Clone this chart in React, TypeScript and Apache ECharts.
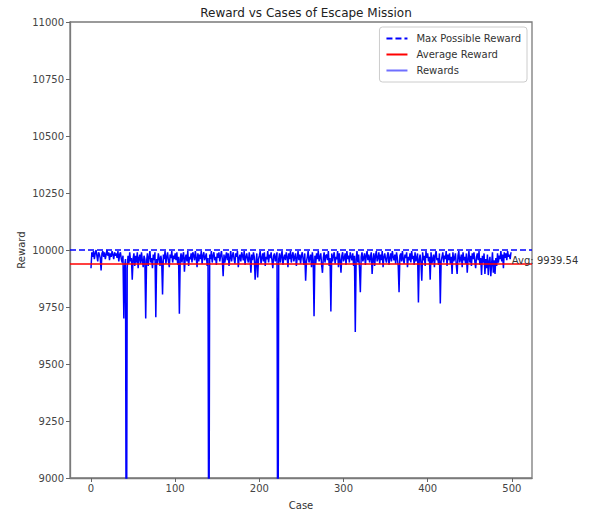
import React, { useEffect, useRef } from "react";
import * as echarts from "echarts";

const TITLE = "Reward vs Cases of Escape Mission";
const MAX_REWARD = 10000;
const AVG_REWARD = 9939.54;
const X_TICKS = [0, 100, 200, 300, 400, 500];
const LEGEND_NAMES = ["Max Possible Reward", "Average Reward", "Rewards"];

const REWARDS = [
  9920, 9990, 9970, 9995, 9960, 9985, 10000, 9975, 9950, 9990,
  9980, 9965, 9910, 9985, 9995, 9970, 9990, 9960, 9980, 10000,
  9975, 9990, 9955, 9985, 9970, 9995, 9980, 9960, 9990, 9975,
  9985, 9965, 9995, 9950, 9980, 9990, 9960, 9945, 9975, 9700,
  9930, 9960, 8200, 9920, 9975, 9940, 9990, 9950, 9965, 9870,
  9960, 9985, 9930, 9975, 9945, 9990, 9920, 9965, 9980, 9940,
  9990, 9955, 9925, 9975, 9960, 9700, 9950, 9985, 9930, 9970,
  9995, 9945, 9965, 9920, 9980, 9955, 9990, 9705, 9960, 9940,
  9985, 9965, 9930, 9975, 9950, 9805, 9980, 9960, 9995, 9940,
  9970, 9990, 9950, 9925, 9980, 9965, 9995, 9945, 9975, 9960,
  9985, 9955, 9990, 9935, 9970, 9720, 9960, 9985, 9945, 9975,
  9990, 9905, 9965, 9980, 9950, 9995, 9930, 9970, 9960, 9985,
  9945, 9990, 9975, 9955, 9995, 9965, 9925, 9985, 9950, 9980,
  9960, 9995, 9940, 9975, 9990, 9955, 9970, 9985, 9930, 9965,
  8300, 9980, 9960, 9995, 9945, 9975, 9990, 9955, 9970, 9935,
  9985, 9965, 9990, 9950, 9975, 9995, 9960, 9885, 9980, 9945,
  9970, 9990, 9955, 9985, 9930, 9965, 9995, 9950, 9975, 9990,
  9960, 9940, 9985, 9970, 9995, 9925, 9965, 9980, 9950, 9990,
  9975, 9955, 9995, 9935, 9970, 9985, 9960, 9945, 9990, 9965,
  9900, 9980, 9955, 9990, 9970, 9870, 9945, 9985, 9880, 9960,
  9975, 9995, 9940, 9965, 9985, 9950, 9990, 9930, 9970, 9960,
  9995, 9945, 9980, 9965, 9990, 9955, 9920, 9975, 9985, 9950,
  9970, 9990, 8100, 9960, 9985, 9945, 9975, 9995, 9935, 9965,
  9980, 9955, 9990, 9970, 9925, 9985, 9960, 9995, 9945, 9975,
  9990, 9950, 9970, 9985, 9930, 9965, 9995, 9955, 9980, 9940,
  9975, 9990, 9960, 9935, 9985, 9865, 9950, 9970, 9995, 9945,
  9965, 9980, 9925, 9990, 9955, 9710, 9975, 9940, 9985, 9960,
  9995, 9950, 9970, 9985, 9935, 9900, 9965, 9990, 9945, 9975,
  9980, 9955, 9995, 9930, 9965, 9730, 9985, 9950, 9975, 9990,
  9940, 9970, 9960, 9995, 9925, 9985, 9955, 9900, 9975, 9990,
  9950, 9965, 9985, 9935, 9995, 9960, 9975, 9945, 9990, 9970,
  9955, 9985, 9930, 9975, 9640, 9960, 9995, 9945, 9980, 9920,
  9815, 9970, 9990, 9950, 9965, 9985, 9935, 9975, 9995, 9955,
  9980, 9945, 9970, 9990, 9895, 9960, 9985, 9930, 9975, 9995,
  9950, 9965, 9990, 9940, 9980, 9955, 9995, 9925, 9970, 9985,
  9960, 9945, 9975, 9990, 9935, 9965, 9985, 9950, 9995, 9970,
  9955, 9980, 9940, 9990, 9965, 9930, 9815, 9975, 9985, 9950,
  9995, 9960, 9940, 9980, 9965, 9990, 9925, 9970, 9955, 9985,
  9945, 9995, 9960, 9975, 9935, 9990, 9950, 9965, 9985, 9770,
  9960, 9980, 9945, 9865, 9990, 9955, 9975, 9930, 9995, 9965,
  9985, 9950, 9970, 9870, 9990, 9940, 9960, 9980, 9925, 9975,
  9995, 9955, 9965, 9935, 9985, 9765, 9950, 9970, 9990, 9945,
  9975, 9960, 9995, 9930, 9980, 9955, 9985, 9940, 9970, 9895,
  9990, 9950, 9965, 9985, 9935, 9895, 9975, 9995, 9945, 9960,
  9980, 9925, 9990, 9955, 9970, 9940, 9985, 9900, 9960, 9995,
  9945, 9975, 9930, 9985, 9960, 9990, 9950, 9920, 9970, 9985,
  9955, 9995, 9935, 9965, 9890, 9975, 9945, 9985, 9895, 9960,
  9920, 9980, 9890, 9950, 9970, 9885, 9940, 9990, 9900, 9955,
  9895, 9965, 9930, 9985, 9945, 9975, 9960, 9995, 9950, 9980,
  9920, 9990, 9965, 9985, 9955, 9995, 9970, 9980, 9960, 9990,
];

const FONT = "DejaVu Sans";
const DASH_ICON = "path://M0,0h6v2h-6zM9,0h6v2h-6zM18,0h3v2h-3z";
const SOLID_ICON = "path://M0,0h21v2h-21z";

export default function App() {
  const ref = useRef<HTMLDivElement>(null);
  useEffect(() => {
    if (!ref.current) return;
    const chart = echarts.init(ref.current, null, { renderer: "svg" });
    const data = REWARDS.map((v, i) => [i, v]);
    chart.setOption({
      animation: false,
      backgroundColor: "#ffffff",
      textStyle: { fontFamily: FONT },
      title: {
        text: TITLE,
        left: 301,
        textAlign: "center",
        top: 2,
        textStyle: { fontSize: 12, fontWeight: "normal", color: "#222", fontFamily: FONT },
      },
      grid: {
        left: 70,
        right: 60,
        top: 22,
        bottom: 33,
        show: true,
        borderColor: "#7a7a7a",
        borderWidth: 1.3,
        backgroundColor: "transparent",
      },
      legend: {
        orient: "vertical",
        right: 65,
        top: 27,
        padding: [6, 6, 6, 7],
        itemGap: 5,
        itemWidth: 21,
        itemHeight: 2,
        backgroundColor: "rgba(255,255,255,0.85)",
        borderColor: "#cccccc",
        borderWidth: 1,
        borderRadius: 3,
        textStyle: {
          fontSize: 10,
          lineHeight: 11,
          color: "#333",
          fontFamily: FONT,
          padding: [0, 0, 0, 4],
        },
        data: [
          { name: LEGEND_NAMES[0], icon: DASH_ICON },
          { name: LEGEND_NAMES[1], icon: SOLID_ICON },
          { name: LEGEND_NAMES[2], icon: SOLID_ICON, itemStyle: { color: "#6f6fff" } },
        ],
      },
      xAxis: {
        type: "value",
        min: -24.95,
        max: 523.95,
        name: "Case",
        nameLocation: "middle",
        nameGap: 22,
        nameMoveOverlap: false,
        nameTextStyle: { fontSize: 10, color: "#333", fontFamily: FONT, verticalAlign: "top" },
        axisLine: { show: true, onZero: false, lineStyle: { color: "#7a7a7a", width: 1.3 } },
        axisTick: { show: true, length: 4, customValues: X_TICKS, lineStyle: { color: "#666" } },
        axisLabel: {
          customValues: X_TICKS,
          fontSize: 10,
          color: "#444",
          margin: 5,
          formatter: (v: number) => String(v),
        },
        splitLine: { show: false },
      },
      yAxis: {
        type: "value",
        min: 9000,
        max: 11000,
        interval: 250,
        name: "Reward",
        nameLocation: "middle",
        nameGap: 44,
        nameMoveOverlap: false,
        nameTextStyle: { fontSize: 10, color: "#333", fontFamily: FONT },
        axisLine: { show: true, onZero: false, lineStyle: { color: "#7a7a7a", width: 1.3 } },
        axisTick: { show: true, length: 4, lineStyle: { color: "#666" } },
        axisLabel: {
          fontSize: 10,
          color: "#444",
          margin: 6,
          formatter: (v: number) => String(v),
        },
        splitLine: { show: false },
      },
      series: [
        {
          name: LEGEND_NAMES[0],
          type: "line",
          data: [],
          symbol: "none",
          color: "#0000ff",
          lineStyle: { color: "#0000ff", width: 1.5, type: [6, 3] },
          markLine: {
            silent: true,
            symbol: "none",
            label: { show: false },
            lineStyle: { color: "#0000ff", width: 1.5, type: [6, 3] },
            data: [{ yAxis: MAX_REWARD }],
          },
        },
        {
          name: LEGEND_NAMES[1],
          type: "line",
          data: [],
          symbol: "none",
          color: "#ff0000",
          lineStyle: { color: "#ff0000", width: 1.5 },
          markLine: {
            silent: true,
            symbol: "none",
            label: { show: false },
            lineStyle: { color: "#ff0000", width: 1.5, type: "solid" },
            data: [{ yAxis: AVG_REWARD }],
          },
          markPoint: {
            symbol: "circle",
            symbolSize: 0,
            data: [
              {
                coord: [REWARDS.length, AVG_REWARD],
                label: {
                  show: true,
                  formatter: "Avg: " + AVG_REWARD.toFixed(2),
                  position: [0, 0],
                  align: "left",
                  verticalAlign: "bottom",
                  offset: [0, 2],
                  fontSize: 10,
                  color: "#333",
                  fontFamily: FONT,
                },
              },
            ],
          },
        },
        {
          name: LEGEND_NAMES[2],
          type: "line",
          data,
          symbol: "none",
          showSymbol: false,
          color: "#0000ff",
          lineStyle: { color: "#0000ff", width: 1.5 },
          clip: true,
        },
      ],
    });
    return () => chart.dispose();
  }, []);
  return (
    <div
      ref={ref}
      style={{ position: "fixed", left: 0, top: 0, width: 592, height: 515, background: "#fff" }}
    />
  );
}
